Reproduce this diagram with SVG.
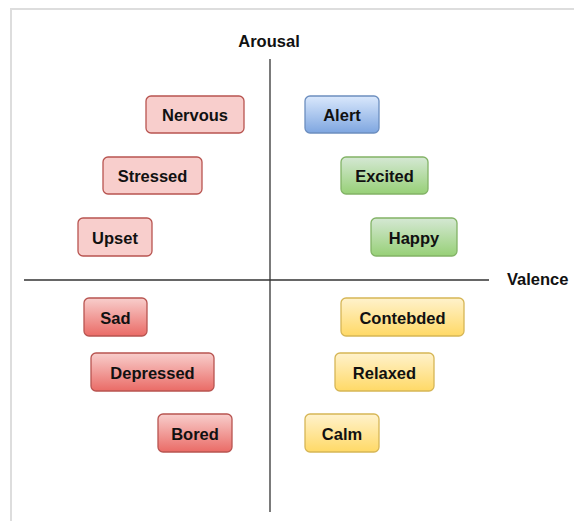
<svg xmlns="http://www.w3.org/2000/svg" width="574" height="521" viewBox="0 0 574 521">
  <defs>
    <linearGradient id="gRed" x1="0" y1="0" x2="0" y2="1">
      <stop offset="0" stop-color="#f8cecc"/>
      <stop offset="1" stop-color="#ea6b66"/>
    </linearGradient>
    <linearGradient id="gBlue" x1="0" y1="0" x2="0" y2="1">
      <stop offset="0" stop-color="#dae8fc"/>
      <stop offset="1" stop-color="#7ea6e0"/>
    </linearGradient>
    <linearGradient id="gGreen" x1="0" y1="0" x2="0" y2="1">
      <stop offset="0" stop-color="#d5e8d4"/>
      <stop offset="1" stop-color="#97d077"/>
    </linearGradient>
    <linearGradient id="gYellow" x1="0" y1="0" x2="0" y2="1">
      <stop offset="0" stop-color="#fff2cc"/>
      <stop offset="1" stop-color="#ffd966"/>
    </linearGradient>
  </defs>
  <style>
    text { font-family: "Liberation Sans", Arial, sans-serif; font-weight: bold; font-size: 16.5px; fill: #111; }
    .lbl { text-anchor: middle; dominant-baseline: central; }
    rect.n { rx: 5px; ry: 5px; stroke-width: 1.3; }
    .pale rect { fill: #f8cecc; stroke: #b85450; }
    .red rect { fill: url(#gRed); stroke: #b85450; }
    .blue rect { fill: url(#gBlue); stroke: #6c8ebf; }
    .green rect { fill: url(#gGreen); stroke: #82b366; }
    .yellow rect { fill: url(#gYellow); stroke: #d6b656; }
    .axis { stroke: #333; stroke-width: 1.3; fill: none; }
  </style>

  <rect width="574" height="521" fill="#ffffff"/>
  <!-- page frame -->
  <rect x="11" y="9" width="580" height="530" fill="none" stroke="#dddddd" stroke-width="2"/>

  <!-- axes -->
  <g id="axes">
    <line class="axis" x1="270" y1="59" x2="270" y2="512"/>
    <line class="axis" x1="24" y1="280" x2="489" y2="280"/>
    <text x="269" y="47" text-anchor="middle">Arousal</text>
    <text x="507" y="285">Valence</text>
  </g>

  <!-- high arousal, negative valence -->
  <g id="nervous" class="pale"><rect class="n" x="146" y="96" width="98" height="37"/><text class="lbl" x="195" y="115">Nervous</text></g>
  <g id="stressed" class="pale"><rect class="n" x="103" y="157" width="99" height="37"/><text class="lbl" x="152.5" y="176">Stressed</text></g>
  <g id="upset" class="pale"><rect class="n" x="78" y="218" width="74" height="38"/><text class="lbl" x="115" y="237.5">Upset</text></g>

  <!-- high arousal, positive valence -->
  <g id="alert" class="blue"><rect class="n" x="305" y="96" width="74" height="37"/><text class="lbl" x="342" y="115">Alert</text></g>
  <g id="excited" class="green"><rect class="n" x="341" y="157" width="87" height="37"/><text class="lbl" x="384.5" y="176">Excited</text></g>
  <g id="happy" class="green"><rect class="n" x="371" y="218" width="86" height="38"/><text class="lbl" x="414" y="237.5">Happy</text></g>

  <!-- low arousal, negative valence -->
  <g id="sad" class="red"><rect class="n" x="84" y="298" width="63" height="38"/><text class="lbl" x="115.5" y="317.5">Sad</text></g>
  <g id="depressed" class="red"><rect class="n" x="91" y="353" width="123" height="38"/><text class="lbl" x="152.5" y="372.5">Depressed</text></g>
  <g id="bored" class="red"><rect class="n" x="158" y="414" width="74" height="38"/><text class="lbl" x="195" y="433.5">Bored</text></g>

  <!-- low arousal, positive valence -->
  <g id="contebded" class="yellow"><rect class="n" x="341" y="298" width="123" height="38"/><text class="lbl" x="402.5" y="317.5">Contebded</text></g>
  <g id="relaxed" class="yellow"><rect class="n" x="335" y="353" width="99" height="38"/><text class="lbl" x="384.5" y="372.5">Relaxed</text></g>
  <g id="calm" class="yellow"><rect class="n" x="305" y="414" width="74" height="38"/><text class="lbl" x="342" y="433.5">Calm</text></g>
</svg>
